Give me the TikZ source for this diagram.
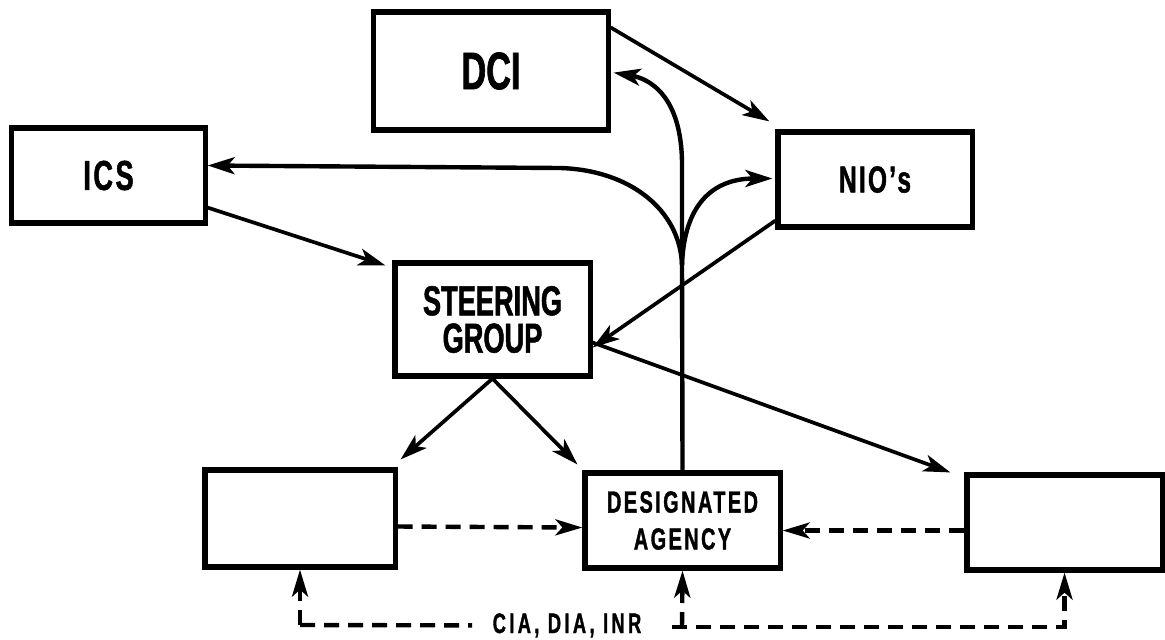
\documentclass[tikz,border=0pt]{standalone}
\usepackage{fontspec}
\setmainfont{Liberation Sans}[FakeStretch=0.65, BoldFeatures={FakeBold=1.2}]
\usetikzlibrary{arrows.meta,calc}

\begin{document}
\begin{tikzpicture}[x=0.01cm, y=-0.01cm,
    box/.style={draw, line width=1.45pt, inner sep=0pt, align=center},
    link/.style={line width=1.05pt, -{Stealth[length=0.27cm, width=0.17cm, inset=0.07cm]}},
    flow/.style={line width=1.25pt, -{Stealth[length=0.27cm, width=0.17cm, inset=0.07cm]}},
    feed/.style={line width=1.25pt, dash pattern=on 0.15cm off 0.09cm, -{Stealth[length=0.27cm, width=0.16cm, inset=0.07cm]}},
    dashline/.style={line width=1.25pt, dash pattern=on 0.15cm off 0.09cm}]

    \useasboundingbox (0,0) rectangle (1165,639);

    % Boxes
    \node[box, minimum width=2.34cm, minimum height=1.18cm,
          font={\bfseries\fontsize{15}{15}\selectfont}] (dci) at (491,71) {DCI};
    \node[box, minimum width=1.93cm, minimum height=0.95cm,
          font={\bfseries\fontsize{11.9}{12}\selectfont\addfontfeature{LetterSpace=6}}] (ics) at (108.5,175.5) {ICS};
    \node[box, minimum width=1.94cm, minimum height=0.95cm,
          font={\bfseries\fontsize{10.7}{11}\selectfont\addfontfeature{LetterSpace=6}}] (nio) at (875,179.5) {NIO's};
    \node[box, minimum width=1.95cm, minimum height=1.13cm,
          font={\bfseries\fontsize{11.9}{10.6}\selectfont}] (sg) at (492.5,319.5) {STEERING\\GROUP};
    \node[box, minimum width=1.90cm, minimum height=0.97cm] (lbox) at (300,518.5) {};
    \node[box, minimum width=1.95cm, minimum height=0.95cm,
          font={\bfseries\fontsize{8.7}{10.5}\selectfont\addfontfeature{LetterSpace=8}}] (da) at (682.5,520.5) {DESIGNATED\\AGENCY};
    \node[box, minimum width=1.95cm, minimum height=0.95cm] (rbox) at (1064.5,522.5) {};

    % Label of the bottom line
    \node[anchor=base, inner xsep=0.2cm, inner ysep=0pt,
          font={\bfseries\fontsize{8}{8}\selectfont\addfontfeature{LetterSpace=12}}] (src) at (567,633) {CIA, DIA, INR};

    % Straight arrows
    \draw[link] ($(dci.north east)+(0,18)$) -- ($(nio.north west)+(-6,-8)$);
    \draw[link] ($(nio.south west)+(0,-9)$) -- ($(sg.east)+(0,28)$);
    \draw[link] ($(ics.south east)+(0,-18)$) -- ($(sg.north west)+(-7,5)$);
    \draw[link] (sg.south) -- ($(lbox.north east)+(3,-8)$);
    \draw[link] (sg.south) -- ($(da.north west)+(-5,-6)$);
    \draw[link] ($(sg.east)+(0,23)$) -- ($(rbox.north west)+(-14,0)$);

    % Fork from the designated agency
    \coordinate (fork) at (682,265);
    \draw[line width=1.25pt] (da.north) -- (fork);
    \draw[flow] (fork) -- ++(0,-100) .. controls +(0,-70) and +(35,6) .. ($(dci.south east)+(3,-60)$);
    \draw[flow] (fork) .. controls +(-2,-55) and +(70,2) .. ++(-122,-97) -- ($(ics.east)+(0,-10)$);
    \draw[flow] (fork) .. controls +(2,-60) and +(-60,0) .. ($(nio.west)+(-3,-1)$);

    % Dashed arrows
    \draw[feed] ($(lbox.east)+(0,8)$) -- ($(da.west)+(0,7)$);
    \draw[feed] ($(rbox.west)+(0,8)$) -- ($(da.east)+(0,10)$);

    % Bottom line
    \coordinate (bl) at (300,625);
    \coordinate (bm) at (682,627);
    \draw[feed] (bl) -- (lbox.south);
    \draw[dashline] (bl) -- (src.west);
    \draw[feed] (bm) -- (da.south);
    \draw[feed] ($(bm)+(-10,0)$) -| (rbox.south);
\end{tikzpicture}
\end{document}
